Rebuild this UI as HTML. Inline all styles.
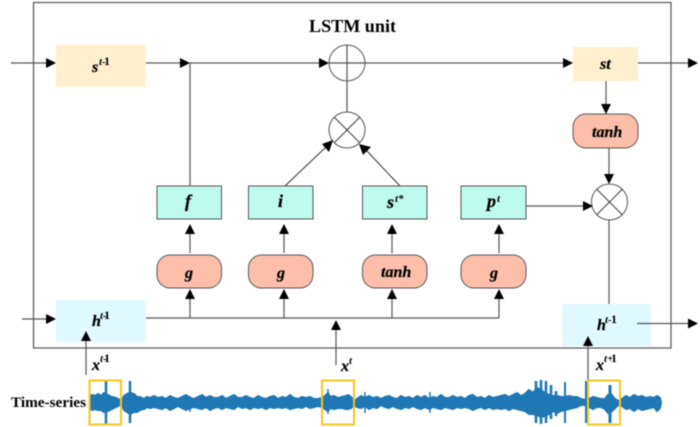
<!DOCTYPE html>
<html>
<head>
<meta charset="utf-8">
<style>
html,body{margin:0;padding:0;background:#fff;width:700px;height:427px;overflow:hidden}
svg{display:block;filter:blur(.45px)}
text{font-family:"Liberation Serif",serif;font-weight:bold;fill:#000}
.v{font-style:italic;font-size:16px;stroke:#000;stroke-width:.25}
.l{fill:none;stroke:#555;stroke-width:1.2}
.d{fill:none;stroke:#333;stroke-width:1}
.m{fill:#bffaee;stroke:#555;stroke-width:1}
.p{fill:#fdbfaa;stroke:#555;stroke-width:1}
.c{fill:#fff;stroke:#555;stroke-width:1}
.a{fill:#000}
.y{fill:none;stroke:#f8c51f;stroke-width:2}
.s{font-size:11px;font-style:italic}
.n{font-size:12px}
</style>
</head>
<body>
<svg width="700" height="427" viewBox="0 0 700 427" xmlns="http://www.w3.org/2000/svg">
<rect x="33.5" y="2.5" width="637.5" height="345.5" class="l"/>

<!-- boxes -->
<rect x="56" y="45" width="89.5" height="42" fill="#ffefcc"/>
<rect x="573" y="47" width="65" height="34" fill="#ffefcc"/>
<rect x="56" y="300" width="89.5" height="42" fill="#dff9ff"/>
<rect x="562" y="304" width="89" height="42" fill="#dff9ff"/>

<rect x="157" y="186" width="64.5" height="33" class="m"/>
<rect x="248.5" y="186" width="64.5" height="33" class="m"/>
<rect x="362.5" y="186" width="64.5" height="33" class="m"/>
<rect x="461" y="186" width="65" height="33" class="m"/>

<rect x="157" y="255" width="64.5" height="33" rx="13" class="p"/>
<rect x="248.5" y="255" width="64.5" height="33" rx="13" class="p"/>
<rect x="362.5" y="255" width="64.5" height="33" rx="13" class="p"/>
<rect x="461" y="255" width="65" height="33" rx="13" class="p"/>
<rect x="573" y="114" width="65" height="34" rx="13" class="p"/>

<!-- lines -->
<path class="l" d="M11 63H47M146 63H181M190 63H320M190 63V186M365 63H564M638 63H689M347 81V112M606 81V106M609 148V175M526 206H584M609 220V304M146 318H499M190 318V299M284 318V299M392 318V299M499 318V299M190 253V234M284 253V234M392 253V234M499 253V234M22 319H47M86 375V341M336 365V330M588 380V346M637 323.5H689"/>
<path class="d" d="M285 186L326 147M400 186L366 150"/>

<!-- circles -->
<circle cx="347" cy="63" r="18" class="c"/>
<path class="l" d="M329 63H365M347 45V81"/>
<circle cx="347" cy="130" r="18" class="c"/>
<path class="d" d="M334.3 117.3L359.7 142.7M359.7 117.3L334.3 142.7"/>
<circle cx="609.5" cy="202" r="18" class="c"/>
<path class="d" d="M596.8 189.3L622.2 214.7M622.2 189.3L596.8 214.7"/>

<!-- arrowheads -->
<g class="a">
<polygon points="56,63 46,58 46,68"/>
<polygon points="190,63 180,58 180,68"/>
<polygon points="329,63 319,58 319,68"/>
<polygon points="573,63 563,58 563,68"/>
<polygon points="698,63 688,58 688,68"/>
<polygon points="593,206 583,201 583,211"/>
<polygon points="606,114 601,104 611,104"/>
<polygon points="609,184 604,174 614,174"/>
<polygon points="56,319 46,314 46,324"/>
<polygon points="698,323.5 688,318.5 688,328.5"/>
<polygon points="190,224 185,234 195,234"/>
<polygon points="284,224 279,234 289,234"/>
<polygon points="392,224 387,234 397,234"/>
<polygon points="499,224 494,234 504,234"/>
<polygon points="190,289 185,299 195,299"/>
<polygon points="284,289 279,299 289,299"/>
<polygon points="392,289 387,299 397,299"/>
<polygon points="499,289 494,299 504,299"/>
<polygon points="86,331 81,341 91,341"/>
<polygon points="336,320 331,330 341,330"/>
<polygon points="588,336 583,346 593,346"/>
<polygon points="333,140 322,144 329,152"/>
<polygon points="359,144 363,155 371,147"/>
</g>

<!-- labels -->
<text x="309" y="32" font-size="18" textLength="87" lengthAdjust="spacingAndGlyphs">LSTM unit</text>
<text x="92" y="72" class="v" font-size="17">s</text><text x="99" y="65" class="s">t-</text><text x="104" y="65" class="n">1</text>
<text x="600" y="69" class="v">st</text>
<text x="185" y="207" class="v" style="font-size:18px">f</text>
<text x="278" y="207" class="v" style="font-size:18px">i</text>
<text x="387" y="208" class="v" style="font-size:18px">s</text><text x="395" y="202" class="s">t*</text>
<text x="487" y="207" class="v" style="font-size:18px">p</text><text x="497" y="202" class="s">t</text>
<text x="185" y="278" class="v">g</text>
<text x="277" y="278" class="v">g</text>
<text x="381" y="277" class="v">tanh</text>
<text x="490" y="278" class="v">g</text>
<text x="592" y="137" class="v">tanh</text>
<text x="92" y="326" class="v">h</text><text x="100" y="319" class="s">t-</text><text x="104" y="319" class="n">1</text>
<text x="597" y="330" class="v">h</text><text x="605" y="323" class="s">t-</text><text x="611" y="323" class="n">1</text>
<text x="92" y="370" class="v">x</text><text x="100" y="362" class="s">t-</text><text x="104" y="362" class="n">1</text>
<text x="341" y="371" class="v">x</text><text x="349" y="364" class="s">t</text>
<text x="596" y="370" class="v">x</text><text x="604" y="362" class="s">t+</text><text x="611" y="362" class="n">1</text>
<text x="11" y="407" font-size="15" textLength="75" lengthAdjust="spacingAndGlyphs">Time-series</text>

<!-- waveform -->
<path fill="#1f77b4" stroke="#1f77b4" stroke-width="2" stroke-linejoin="round" d="M90 396L92 395L95 396L98 394L101 396L104 393L108 395L112 397L116 398L120 400L122 401L124 396L127 394L130 393L134 394L137 397L140 397L144 399L147 397L150 398L154 396L158 398L162 397L166 399L170 396L174 398L178 399L182 397L186 395L190 398L194 399L198 397L202 395L206 398L210 396L214 398L218 398L222 396L226 399L230 397L234 395L238 398L242 398L246 396L250 398L254 399L258 396L262 398L266 399L270 397L274 396L278 399L282 397L286 398L290 395L294 398L298 399L302 397L306 398L310 397L314 399L318 399L322 398L325 396L328 393L330 397L334 396L338 398L342 397L346 396L348 395L351 397L354 401L357 399L361 396L365 398L369 396L373 398L377 397L381 399L385 397L389 396L393 398L397 399L401 396L405 398L409 397L413 399L417 396L421 398L425 396L429 399L433 397L437 398L441 395L445 398L449 398L453 396L457 398L461 397L465 399L469 396L473 395L477 398L481 397L485 399L489 396L493 398L497 397L501 396L505 395L509 397L513 395L517 393L521 396L525 394L529 390L533 393L537 388L541 390L545 393L549 395L553 396L557 396L561 397L565 397L569 396L573 397L577 397L581 399L585 400L589 399L593 397L597 398L601 399L605 399L608 395L611 394L614 398L618 401L622 399L626 396L630 398L634 395L638 397L642 396L646 398L650 397L654 398L657 396L660 398L661 403L660 408L657 411L654 407L650 408L646 409L642 410L638 408L634 411L630 408L626 409L622 406L618 405L614 409L611 412L608 413L605 409L601 407L597 407L593 409L589 407L585 405L581 405L577 407L573 408L569 409L565 410L561 411L557 413L553 411L549 414L545 416L541 417L537 415L533 414L529 414L525 411L521 410L517 409L513 408L509 410L505 408L501 409L497 408L493 409L489 407L485 409L481 407L477 408L473 410L469 408L465 407L461 408L457 407L453 409L449 408L445 407L441 409L437 408L433 407L429 409L425 407L421 409L417 408L413 406L409 408L405 407L401 409L397 408L393 406L389 408L385 407L381 405L377 408L373 407L369 409L365 406L361 408L357 407L354 405L351 408L348 409L346 409L342 408L338 408L334 409L330 408L328 411L325 409L322 407L318 406L314 407L310 408L306 406L302 408L298 407L294 408L290 409L286 407L282 408L278 407L274 408L270 407L266 409L262 407L258 408L254 407L250 409L246 407L242 408L238 406L234 409L230 408L226 407L222 409L218 407L214 408L210 410L206 407L202 409L198 408L194 407L190 408L186 410L182 408L178 406L174 408L170 410L166 407L162 409L158 408L154 407L150 408L147 407L144 409L140 410L137 412L134 412L130 414L127 412L124 410L122 405L120 405L116 407L112 409L108 411L104 412L101 410L98 410L95 409L92 410L90 408Z"/>
<g stroke="#1f77b4" fill="none">
<path stroke-width="2.5" d="M106 381V424M130 381V423"/>
<path stroke-width="1.5" d="M190 412V396M328 389V414M365 392V413M430 392V413"/>
<path stroke-width="2.6" d="M536 381V423M541 380V424M546 381V423M551 385V419M556 391V416"/>
<path stroke-width="2" d="M565 382V423M586 381V423"/>
<path stroke-width="3" d="M610 385V423"/>
</g>
<rect x="89.5" y="380.5" width="31.5" height="44" class="y"/>
<rect x="322" y="380.5" width="32" height="44" class="y"/>
<rect x="588" y="380.5" width="32" height="44" class="y"/>
</svg>
</body>
</html>
